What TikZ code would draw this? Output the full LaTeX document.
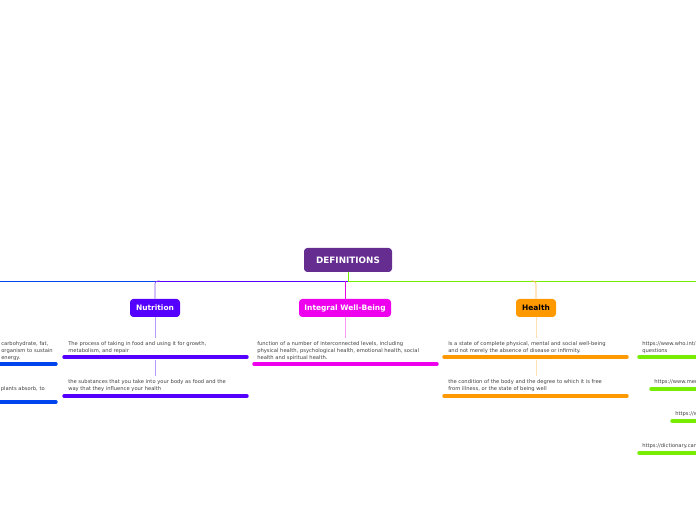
\documentclass[tikz,border=0pt]{standalone}
\usepackage{fontspec}
\setmainfont{DejaVu Sans}
\usetikzlibrary{positioning}
\definecolor{defpurple}{HTML}{662D91}
\definecolor{nutriblue}{HTML}{5500FF}
\definecolor{wellpink}{HTML}{EE00EE}
\definecolor{healthorange}{HTML}{FF9900}
\definecolor{linkgreen}{HTML}{77EE00}
\definecolor{leftblue}{HTML}{0044EE}
\tikzset{
    % Topic boxes
    topic/.style={rounded corners=2.5pt,inner sep=0pt,minimum height=18*0.75pt,font=\bfseries\fontsize{5.6}{6}\selectfont,text=white},
    % Notes and their underlines
    note/.style={anchor=north west,inner sep=0pt,align=left,text=black!75,font=\fontsize{3.9}{5.2}\selectfont},
    underline/.style={line width=2.6pt,line cap=round},
    stem/.style={line width=0.5pt}
}
\begin{document}
\begin{tikzpicture}[x=0.75pt,y=-0.75pt]
    \useasboundingbox (0,0) rectangle (696,520);
    \clip (0,0) rectangle (696,520);
    % main line
    \draw[leftblue,stem] (0,281) -- (155,281);
    \draw[nutriblue,stem] (155,281) -- (348,281);
    \draw[linkgreen,stem] (348,281) -- (696,281);
    \node[topic,fill=defpurple,minimum width=88*0.75pt,minimum height=24*0.75pt,font=\bfseries\fontsize{6.6}{7}\selectfont] (defs) at (348,260) {DEFINITIONS};
    \coordinate (hub) at (348,281);
    \draw[linkgreen,stem] (defs) -- (hub);
    % topics
    \node[topic,fill=nutriblue,minimum width=50*0.75pt] (nutri) at (155,308) {Nutrition};
    \node[topic,fill=wellpink,minimum width=92*0.75pt] (well) at (345,308) {Integral Well-Being};
    \node[topic,fill=healthorange,minimum width=40*0.75pt,text=black] (health) at (536,308) {Health};
    \draw[nutriblue!70,stem,rounded corners=2pt] (nutri.north) -- (155,281) -- (160,281);
    \draw[wellpink,stem] (well.north) -- (345,281);
    \draw[healthorange!70,stem,rounded corners=2pt] (health.north) -- (536,281) -- (531,281);
    % nutrition notes
    \node[note] (n1) at (68,341) {The process of taking in food and using it for growth,\\metabolism, and repair};
    \node[note] (n2) at (68,379) {the substances that you take into your body as food and the\\way that they influence your health};
    \draw[nutriblue,underline] (64,357) -- (247,357);
    \draw[nutriblue,underline] (64,396) -- (247,396);
    \draw[nutriblue!40,stem] (nutri.south) -- (155,338);
    \draw[nutriblue!40,stem] (155,360) -- (155,376);
    % well-being note
    \node[note] (w1) at (257,341) {function of a number of interconnected levels, including\\physical health, psychological health, emotional health, social\\health and spiritual health.};
    \draw[wellpink,underline] (254,364) -- (437,364);
    \draw[wellpink!40,stem] (well.south) -- (345,338);
    % health notes
    \node[note] (h1) at (448,341) {Is a state of complete physical, mental and social well-being\\and not merely the absence of disease or infirmity.};
    \node[note] (h2) at (448,379) {the condition of the body and the degree to which it is free\\from illness, or the state of being well};
    \draw[healthorange,underline] (444,357) -- (627,357);
    \draw[healthorange,underline] (444,396) -- (627,396);
    \draw[healthorange!30,stem] (health.south) -- (536,338);
    \draw[healthorange!30,stem] (536,360) -- (536,376);
    % left notes
    \node[note,anchor=north east,align=left] (l1) at (53,341) {carbohydrate, fat,\\ organism to sustain\\ energy.};
    \node[note,anchor=north east] (l2) at (45,386) {plants absorb, to};
    \draw[leftblue,underline] (-5,364) -- (56,364);
    \draw[leftblue,underline] (-5,402) -- (56,402);
    % links
    \node[note] (k1) at (642,341) {https://www.who.int/about/frequently-asked-\\questions};
    \node[note] (k2) at (654,379) {https://www.merriam-webster.com};
    \node[note] (k3) at (675,411) {https://www.britannica.com};
    \node[note] (k4) at (642,443) {https://dictionary.cambridge.org};
    \draw[linkgreen,underline] (639,357) -- (700,357);
    \draw[linkgreen,underline] (651,389) -- (700,389);
    \draw[linkgreen,underline] (672,421) -- (700,421);
    \draw[linkgreen,underline] (639,453) -- (700,453);
\end{tikzpicture}
\end{document}
